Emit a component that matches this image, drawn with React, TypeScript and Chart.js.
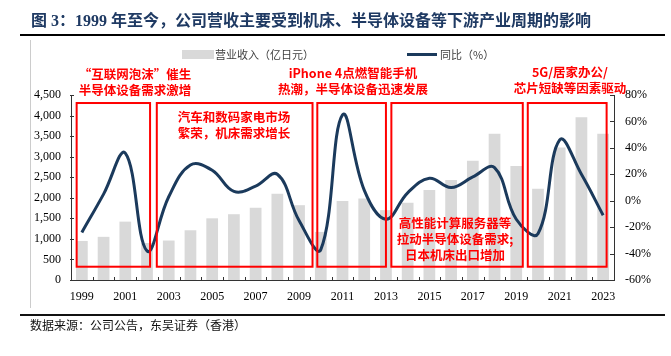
import React, { useEffect, useRef } from "react";
import { Chart, registerables } from "chart.js";

Chart.register(...registerables);

// ---------- data ----------
const years = [
  "1999", "2000", "2001", "2002", "2003", "2004", "2005", "2006", "2007",
  "2008", "2009", "2010", "2011", "2012", "2013", "2014", "2015", "2016",
  "2017", "2018", "2019", "2020", "2021", "2022", "2023",
];
const revenue = [
  950, 1050, 1420, 900, 960, 1210, 1500, 1600, 1760, 2100, 1820, 1170, 1920,
  1980, 1700, 1880, 2190, 2430, 2900, 3560, 2770, 2220, 3220, 3960, 3560,
];
const yoy = [
  -24, 5, 36, -38, 3, 27, 23, 7, 11, 20, -15, -37, 65, 8, -14, 6, 17, 10, 18,
  25, -14, -25, 46, 20, -11,
];
const revenueLabel = "营业收入（亿日元）";
const yoyLabel = "同比（%）";
const titleText = "图 3：1999 年至今，公司营收主要受到机床、半导体设备等下游产业周期的影响";
const sourceText = "数据来源：公司公告，东吴证券（香港）";
const noteTexts = [
  ["“互联网泡沫”催生", "半导体设备需求激增"],
  ["汽车和数码家电市场", "繁荣，机床需求增长"],
  ["iPhone 4点燃智能手机", "热潮，半导体设备迅速发展"],
  ["高性能计算服务器等", "拉动半导体设备需求;", "日本机床出口增加"],
  ["5G/居家办公/", "芯片短缺等因素驱动"],
];

// ---------- layout of annotations (category index / left-axis value) ----------
const boxFrom = [-0.24, 3.45, 10.84, 14.25, 20.53];
const boxTo = [3.14, 10.62, 14.0, 20.3, 24.16];
const boxTop = 4305;
const boxBottom = 323;
const noteX = [2.45, 7.0, 12.48, 17.18, 22.47];
const noteY = [5011, 3953, 5035, 1374, 5059];

const axisColor = "#333333";
const lineColor = "#1b3a5c";
const barColor = "#d9d9d9";
const red = "#ff0000";
const serif = "'Liberation Serif', 'Times New Roman', serif";
const cjk = "'Noto Sans CJK SC', sans-serif";

const overlay = {
  id: "overlay",
  afterDatasetsDraw(chart: any) {
    const ctx = chart.ctx;
    const xs = chart.scales.x;
    const ys = chart.scales.y;
    const y1 = chart.scales.y1;
    const area = chart.chartArea;
    ctx.save();
    // inward tick marks
    ctx.strokeStyle = axisColor;
    ctx.lineWidth = 1;
    ctx.beginPath();
    for (let v = 0; v <= 4500; v += 500) {
      const py = Math.round(ys.getPixelForValue(v)) + 0.5;
      ctx.moveTo(area.left - 1, py);
      ctx.lineTo(area.left + 3, py);
    }
    for (let v = -60; v <= 80; v += 20) {
      const py = Math.round(y1.getPixelForValue(v)) + 0.5;
      ctx.moveTo(area.right - 4, py);
      ctx.lineTo(area.right, py);
    }
    for (let i = 1; i < years.length; i++) {
      const px = Math.round(xs.getPixelForValue(i - 0.5)) + 0.5;
      ctx.moveTo(px, area.bottom);
      ctx.lineTo(px, area.bottom - 3);
    }
    ctx.stroke();

    // red boxes
    ctx.strokeStyle = red;
    ctx.lineWidth = 2;
    for (let i = 0; i < boxFrom.length; i++) {
      const l = xs.getPixelForValue(boxFrom[i]);
      const r = xs.getPixelForValue(boxTo[i]);
      const t = ys.getPixelForValue(boxTop);
      const b = ys.getPixelForValue(boxBottom);
      ctx.strokeRect(l, t, r - l, b - t);
    }

    // annotation texts
    ctx.fillStyle = red;
    ctx.font = `bold 12.5px ${cjk}`;
    ctx.textAlign = "center";
    ctx.textBaseline = "middle";
    for (let i = 0; i < noteTexts.length; i++) {
      const cx = xs.getPixelForValue(noteX[i]);
      const cy = ys.getPixelForValue(noteY[i]);
      noteTexts[i].forEach((line, j) => {
        ctx.fillText(line, cx, cy + j * 16);
      });
    }

    // legend
    ctx.fillStyle = barColor;
    ctx.fillRect(182, 50, 32, 9);
    ctx.fillStyle = "#404040";
    ctx.font = `11px ${cjk}`;
    ctx.textAlign = "left";
    ctx.textBaseline = "middle";
    ctx.fillText(chart.data.datasets[0].label, 215, 54.5);
    ctx.strokeStyle = lineColor;
    ctx.lineWidth = 3;
    ctx.beginPath();
    ctx.moveTo(407, 54.5);
    ctx.lineTo(437, 54.5);
    ctx.stroke();
    ctx.fillText(chart.data.datasets[1].label, 440, 54.5);
    ctx.restore();
  },
};

export default function App() {
  const ref = useRef<HTMLCanvasElement | null>(null);

  useEffect(() => {
    document.body.style.margin = "0";
    const canvas = ref.current;
    if (!canvas) return;
    const tickFont = { family: serif, size: 12 };
    const chart = new Chart(canvas, {
      type: "bar",
      data: {
        labels: years,
        datasets: [
          {
            type: "bar",
            label: revenueLabel,
            data: revenue,
            backgroundColor: barColor,
            barPercentage: 0.54,
            categoryPercentage: 1,
            yAxisID: "y",
            order: 1,
          },
          {
            type: "line",
            label: yoyLabel,
            data: yoy,
            borderColor: lineColor,
            borderWidth: 3,
            pointRadius: 0,
            tension: 0.4,
            yAxisID: "y1",
            order: 0,
          },
        ] as any,
      },
      options: {
        responsive: false,
        animation: false,
        devicePixelRatio: 1,
        layout: { padding: { top: 95, left: 0, right: 0, bottom: 0 } },
        plugins: { legend: { display: false }, tooltip: { enabled: false } },
        scales: {
          x: {
            offset: true,
            grid: { display: false, drawTicks: false },
            border: { display: true, color: axisColor, width: 1 },
            ticks: {
              autoSkip: false,
              maxRotation: 0,
              padding: 10,
              font: tickFont,
              color: "#000",
              callback: (_v: any, i: number) => (i % 2 === 0 ? years[i] : ""),
            },
            afterFit: (s: any) => {
              s.height = 76;
            },
          },
          y: {
            position: "left",
            min: 0,
            max: 4500,
            grid: { display: false, drawTicks: false },
            border: { display: true, color: axisColor, width: 1 },
            ticks: {
              stepSize: 500,
              padding: 10,
              font: tickFont,
              color: "#000",
              callback: (v: any) => Number(v).toLocaleString("en-US"),
            },
            afterFit: (s: any) => {
              s.width = 71;
            },
          },
          y1: {
            position: "right",
            min: -60,
            max: 80,
            grid: { display: false, drawTicks: false },
            border: { display: true, color: axisColor, width: 1 },
            ticks: {
              stepSize: 20,
              padding: 11,
              font: tickFont,
              color: "#000",
              callback: (v: any) => `${v}%`,
            },
            afterFit: (s: any) => {
              s.width = 57;
            },
          },
        },
      } as any,
      plugins: [overlay],
    });
    return () => chart.destroy();
  }, []);

  return (
    <div style={{ position: "relative", width: 671, height: 356, background: "#fff", overflow: "hidden" }}>
      <canvas ref={ref} width={671} height={356} style={{ position: "absolute", left: 0, top: 0 }} />
      <div
        style={{
          position: "absolute",
          left: 31,
          top: 11,
          fontFamily: `${serif.replace(", serif", "")}, 'Noto Sans CJK SC'`,
          fontWeight: "bold",
          fontSize: 16,
          lineHeight: "20px",
          color: "#1f3a63",
          whiteSpace: "nowrap",
        }}
      >
        {titleText}
      </div>
      <div style={{ position: "absolute", left: 20, top: 34, width: 645, height: 2, background: "#000" }} />
      <div style={{ position: "absolute", left: 30, top: 40, width: 1, height: 268, background: "#cccccc" }} />
      <div style={{ position: "absolute", left: 20, top: 314, width: 645, height: 2, background: "#111" }} />
      <div
        style={{
          position: "absolute",
          left: 30,
          top: 318,
          fontFamily: `${cjk}`,
          fontSize: 12,
          lineHeight: "14px",
          color: "#111",
          whiteSpace: "nowrap",
        }}
      >
        {sourceText}
      </div>
    </div>
  );
}
